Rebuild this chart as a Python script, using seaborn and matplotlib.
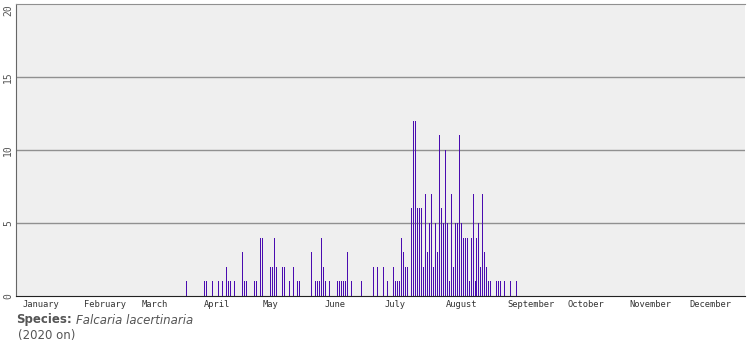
import matplotlib
matplotlib.use("Agg")
import matplotlib.pyplot as plt
import matplotlib.transforms as mtransforms
import seaborn as sns
import pandas as pd

# day of year (0 = 1 January 2020) and number of records that day
days = [85, 94, 95, 98, 101, 103, 105, 106, 107, 109, 113, 114, 115, 119, 120,
        122, 123, 127, 128, 129, 130, 133, 134, 137, 139, 141, 142, 148, 150,
        151, 152, 153, 154, 155, 157, 161, 162, 163, 164, 165, 166, 168, 173,
        179, 181, 184, 186, 189, 190, 191, 192, 193, 194, 195, 196, 198, 199,
        200, 201, 202, 203, 204, 205, 206, 207, 208, 209, 210, 211, 212, 213,
        214, 215, 216, 217, 218, 219, 220, 221, 222, 223, 224, 225, 226, 227,
        228, 229, 230, 231, 232, 233, 234, 235, 236, 237, 238, 241, 242, 243,
        245, 248, 251]
counts = [1, 1, 1, 1, 1, 1, 2, 1, 1, 1, 3, 1, 1, 1, 1,
          4, 4, 2, 2, 4, 2, 2, 2, 1, 2, 1, 1, 3, 1,
          1, 1, 4, 2, 1, 1, 1, 1, 1, 1, 1, 3, 1, 1,
          2, 2, 2, 1, 2, 1, 1, 1, 4, 3, 2, 2, 6, 12,
          12, 6, 6, 6, 2, 7, 3, 5, 7, 2, 5, 3, 11, 6,
          5, 10, 5, 1, 7, 2, 5, 5, 11, 5, 4, 4, 4, 1,
          4, 7, 1, 4, 5, 2, 7, 3, 2, 1, 1, 1, 1, 1,
          1, 1, 1]

months = ["January", "February", "March", "April", "May", "June", "July",
          "August", "September", "October", "November", "December"]
month_starts = [0, 31, 60, 91, 121, 152, 182, 213, 244, 274, 305, 335]

df = pd.DataFrame({"day": days, "count": counts})

sns.set_style("white")
fig = plt.figure(figsize=(7.55, 3.5), dpi=100)
ax = fig.add_axes([16 / 755, 54 / 350, 729 / 755, 292 / 350])
ax.set_facecolor("#efefef")

sns.histplot(data=df, x="day", weights="count", discrete=True, shrink=0.5,
             color="#4a0cb0", edgecolor="none", alpha=1, ax=ax)
for p in ax.patches:
    p.set_antialiased(False)
    p.set_snap(True)
    p.set_facecolor("#4a0cb0")

ax.set_xlim(-0.7, 365.7)
ax.set_ylim(0, 20)
ax.set_yticks([0, 5, 10, 15, 20])
ax.set_yticklabels(["0", "5", "10", "15", "20"], rotation=90, va="center",
                   family="DejaVu Sans Mono", fontsize=7, color="#555555")
ax.get_yticklabels()[-1].set_va("top")
ax.tick_params(axis="y", length=0, pad=2)
for v in [5, 10, 15]:
    ax.axhline(v, color="#909090", lw=1, zorder=0)

ax.set_xticks(month_starts)
ax.set_xticks(range(0, 366), minor=True)
ax.set_xticklabels([])
ax.tick_params(axis="x", which="major", length=4, width=1, color="#333333",
               direction="out")
ax.tick_params(axis="x", which="minor", length=2, width=0.6, color="#333333",
               direction="out")
ax.set_xlabel("")
ax.set_ylabel("")

trans = mtransforms.blended_transform_factory(ax.transData, ax.transAxes)
for name, start in zip(months, month_starts):
    ax.text(start + 2.5, -0.012, name, transform=trans, ha="left", va="top",
            family="DejaVu Sans Mono", fontsize=6.3, color="#333333")

ax.spines["right"].set_visible(False)
ax.spines["top"].set_color("#909090")
ax.spines["left"].set_color("#666666")
ax.spines["bottom"].set_color("#222222")

fig.text(16 / 755, 1 - 320 / 350, "Species:", fontweight="bold", fontsize=8.5,
         color="#555555", va="center", ha="left")
fig.text(76 / 755, 1 - 320 / 350, "Falcaria lacertinaria", style="italic",
         fontsize=8.5, color="#555555", va="center", ha="left")
fig.text(18 / 755, 1 - 335 / 350, "(2020 on)", fontsize=8.5, color="#555555",
         va="center", ha="left")

fig.savefig("out.png", dpi=100)
